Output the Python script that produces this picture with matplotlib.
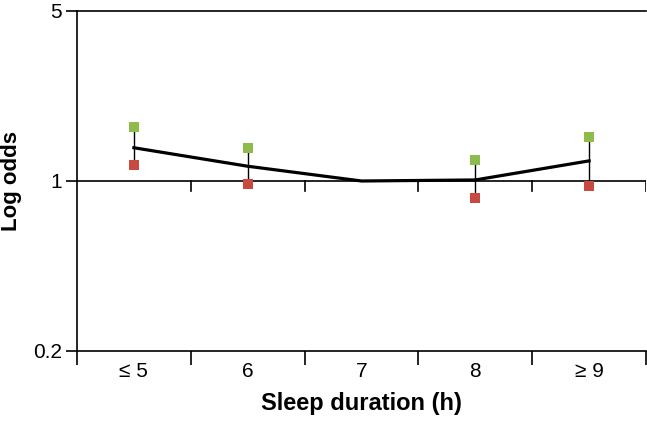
import numpy as np
import matplotlib.pyplot as plt
from matplotlib.ticker import FixedLocator, NullLocator, FixedFormatter

plt.rcParams['font.family'] = ['Liberation Sans', 'DejaVu Sans']

# data
categories = ['\u2264 5', '6', '7', '8', '\u2265 9']
odds = [1.37, 1.15, 1.0, 1.01, 1.21]
upper = [1.67, 1.37, 1.0, 1.22, 1.51]
lower = [1.16, 0.97, 1.0, 0.854, 0.956]
has_ci = [True, True, False, True, True]

green = '#8fbb4c'
red = '#c9483f'

fig = plt.figure(figsize=(6.47, 4.24), dpi=100)
ax = fig.add_axes([77 / 647, 1 - 351 / 424, 569 / 647, 340 / 424])

x = np.arange(len(categories))

# vertical CI lines
for i in x:
    if has_ci[i]:
        ax.plot([i, i], [lower[i], upper[i]], color='black', lw=1.0, zorder=2)

ax.plot(x, odds, color='black', lw=2.3, zorder=3)

xs = [i for i in x if has_ci[i]]
ax.scatter(xs, [upper[i] for i in xs], marker='s', s=44, color=green, zorder=4, linewidths=0)
ax.scatter(xs, [lower[i] for i in xs], marker='s', s=44, color=red, zorder=4, linewidths=0)

ax.set_yscale('log')
ax.set_ylim(0.2, 5)
ax.set_xlim(-0.5, len(categories) - 0.5)

# reference line at 1 with ticks down at category boundaries
ax.axhline(1, color='black', lw=1.2, zorder=1)
bounds = np.arange(len(categories)) + 0.5
for b in bounds:
    ax.plot([b, b], [1, 0.91], color='black', lw=1.2, zorder=1)

ax.yaxis.set_major_locator(FixedLocator([0.2, 1, 5]))
ax.yaxis.set_major_formatter(FixedFormatter(['0.2', '1', '5']))
ax.yaxis.set_minor_locator(NullLocator())

ax.xaxis.set_major_locator(FixedLocator(np.arange(-0.5, len(categories), 1.0)))
ax.xaxis.set_major_formatter(FixedFormatter([''] * (len(categories) + 1)))
ax.set_xticks(x, minor=True)
ax.set_xticklabels(categories, minor=True)
ax.tick_params(axis='x', which='minor', length=0, pad=8, labelsize=15)
ax.tick_params(axis='x', which='major', length=10, width=1.2, direction='out')
ax.tick_params(axis='y', length=8, width=1.2, direction='out', labelsize=15, pad=3)

for s in ['left', 'bottom', 'top']:
    ax.spines[s].set_linewidth(1.2)
ax.spines['right'].set_visible(False)

ax.set_xlabel('Sleep duration (h)', fontsize=17, fontweight='bold')
ax.xaxis.set_label_coords(0.5, -0.122)
ax.set_ylabel('Log odds', fontsize=16, fontweight='bold')
ax.yaxis.set_label_coords(-0.097, 0.5)

fig.savefig('out.png', dpi=100)
